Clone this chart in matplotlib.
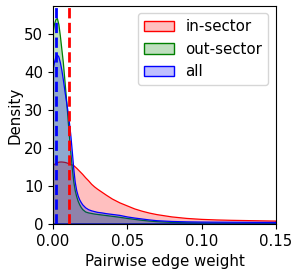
import matplotlib
matplotlib.use("Agg")
import matplotlib.pyplot as plt
from matplotlib.patches import Patch

# edge weight grid and densities
x = [0, 0.001, 0.002, 0.003, 0.004, 0.005, 0.006, 0.007, 0.008, 0.009, 0.010,
     0.011, 0.012, 0.013, 0.014, 0.015, 0.016, 0.017, 0.018, 0.019, 0.020,
     0.022, 0.024, 0.026, 0.028, 0.030, 0.033, 0.036, 0.040, 0.045, 0.050,
     0.055, 0.060, 0.065, 0.070, 0.080, 0.090, 0.100, 0.110, 0.120, 0.135, 0.150]

in_sector = [15.4, 15.7, 15.95, 16.15, 16.3, 16.35, 16.35, 16.3, 16.25, 16.15, 16.0,
             15.85, 15.7, 15.55, 15.4, 15.05, 14.7, 14.3, 13.9, 13.5, 13.1,
             12.2, 11.4, 10.5, 9.8, 9.2, 8.4, 7.6, 6.6, 5.6, 4.8,
             4.0, 3.4, 2.9, 2.5, 1.9, 1.5, 1.25, 1.1, 1.0, 0.9, 0.8]

out_sector = [50.2, 52.5, 53.8, 54.1, 52.5, 49.5, 46.0, 42.5, 38.0, 33.5, 28.5,
              23.5, 19.0, 14.8, 11.2, 8.8, 7.2, 6.0, 5.1, 4.4, 3.85,
              3.2, 2.95, 2.8, 2.65, 2.55, 2.4, 2.25, 2.05, 1.8, 1.5,
              1.25, 1.0, 0.8, 0.65, 0.45, 0.35, 0.3, 0.28, 0.25, 0.22, 0.2]

all_pairs = [40.4, 42.5, 44.0, 44.5, 44.0, 42.5, 40.5, 38.0, 35.2, 32.6, 30.0,
             27.0, 23.5, 19.2, 14.6, 11.0, 8.8, 7.4, 6.4, 5.7, 5.1,
             4.3, 3.8, 3.5, 3.3, 3.1, 2.95, 2.75, 2.55, 2.3, 1.9,
             1.6, 1.35, 1.1, 0.9, 0.7, 0.6, 0.55, 0.52, 0.5, 0.47, 0.45]

# medians (dashed lines)
median_in = 0.0107
median_all = 0.0019

series = [("in-sector", in_sector, "red"),
          ("out-sector", out_sector, "green"),
          ("all", all_pairs, "blue")]

plt.rcParams["font.size"] = 10.8

fig = plt.figure(figsize=(2.99, 2.72), dpi=100)
ax = fig.add_axes([0.177, 0.176, 0.746, 0.802])

handles = []
for name, y, c in series:
    ax.fill_between(x, y, 0, facecolor=c, alpha=0.25, edgecolor="none")
    ax.fill_between(x, y, 0, facecolor="none", edgecolor=c, linewidth=0.9)
    handles.append(Patch(facecolor=matplotlib.colors.to_rgba(c, 0.25), edgecolor=c, label=name))

ax.axvline(median_all, color="blue", linestyle="--", linewidth=2)
ax.axvline(median_in, color="red", linestyle="--", linewidth=2)

ax.set_xlim(0, 0.15)
ax.set_ylim(0, 57.4)
ax.set_xticks([0, 0.05, 0.10, 0.15])
ax.set_yticks([0, 10, 20, 30, 40, 50])
ax.set_xlabel("Pairwise edge weight")
ax.set_ylabel("Density", labelpad=1)
ax.legend(handles=handles, loc="upper right")

fig.savefig("out.png", dpi=100)
